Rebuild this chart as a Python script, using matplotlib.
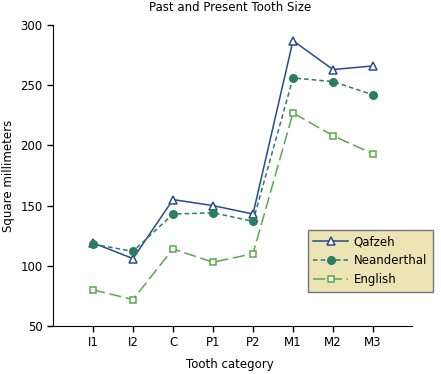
import matplotlib.pyplot as plt
import numpy as np

teeth = ['I1', 'I2', 'C', 'P1', 'P2', 'M1', 'M2', 'M3']
qafzeh = [119, 106, 155, 150, 143, 287, 263, 266]
neanderthal = [118, 112, 143, 144, 137, 256, 253, 242]
english = [80, 72, 114, 103, 110, 227, 208, 193]

x = np.arange(len(teeth))

fig = plt.figure(figsize=(4.41, 3.74), dpi=100)
ax = fig.add_axes([48 / 441, 1 - 326 / 374, (412 - 48) / 441, (326 - 25) / 374])

ax.plot(x, qafzeh, color='#2b4a8c', lw=1.1, marker='^', ms=5.5, mfc='white',
        mec='#2b4a8c', mew=1.1, label='Qafzeh')
ax.plot(x, neanderthal, color='#2a7d63', lw=1.1, ls=(0, (3, 2)), marker='o', ms=5.5,
        mfc='#2a7d63', mec='#2a7d63', label='Neanderthal')
ax.plot(x, english, color='#5ba84c', lw=1.1, ls=(0, (8, 3)), marker='s', ms=5, mfc='white',
        mec='#5ba84c', mew=1.1, label='English')

ax.set_xlim(-1.125, 7.975)
ax.set_ylim(50, 300)
ax.set_xticks(x)
ax.set_xticklabels(teeth)
ax.set_yticks([50, 100, 150, 200, 250, 300])
ax.spines['top'].set_visible(False)
ax.spines['right'].set_visible(False)
ax.spines['left'].set_position(('data', -1.0))
ax.tick_params(labelsize=8.5, length=4, width=1, direction='out')
ax.set_xlabel('Tooth category', fontsize=8.5, labelpad=6)
ax.set_ylabel('Square millimeters', fontsize=8.5)
ax.set_title('Past and Present Tooth Size', fontsize=8.5, pad=10)

leg = ax.legend(loc='upper left', bbox_to_anchor=(304 / 441, 1 - 226 / 374),
                bbox_transform=fig.transFigure, fontsize=8.5, frameon=True,
                fancybox=False, handlelength=2.9, handletextpad=0.5,
                borderpad=0.5, borderaxespad=0.3, labelspacing=0.5)
leg.get_frame().set_facecolor('#ece4b4')
leg.get_frame().set_edgecolor('#777777')
leg.get_frame().set_alpha(1)

fig.savefig('out.png', dpi=100)
